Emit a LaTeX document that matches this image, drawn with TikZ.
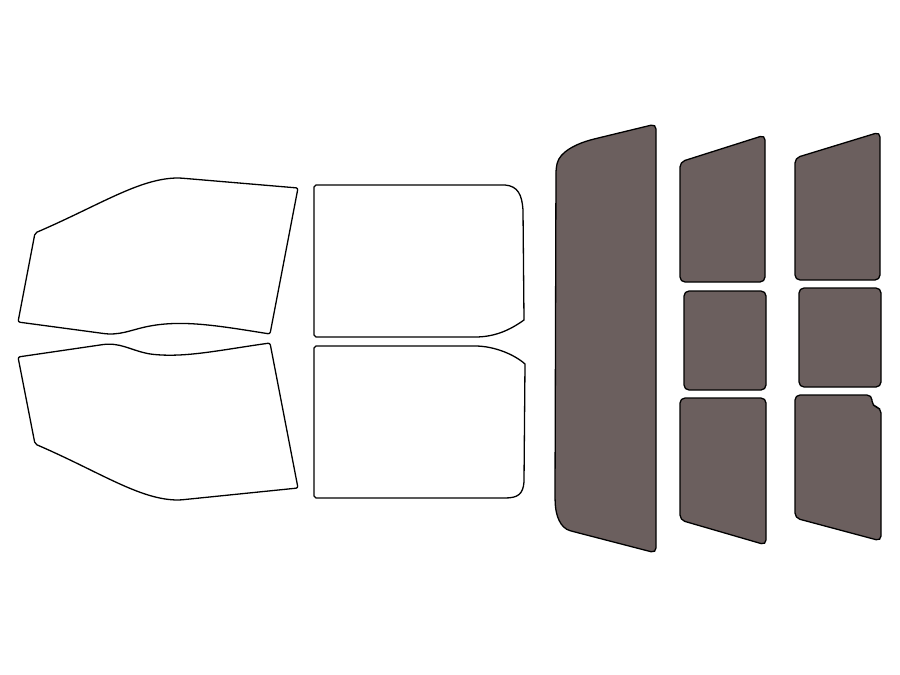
\documentclass[tikz,border=0pt]{standalone}
\begin{document}
\begin{tikzpicture}[x=1pt,y=-1pt]
\definecolor{tint}{HTML}{6B5F5E}
\tikzset{clear/.style={draw=black,line width=1.3pt,fill=white,line join=round},
dark/.style={draw=black,line width=1.3pt,fill=tint,rounded corners=5pt}}
\useasboundingbox[fill=white] (0,0) rectangle (900,675);
% front windows
\draw[clear,rounded corners=2pt] (35,233) .. controls (100,205) and (140,178) .. (180,178) -- (298,188) -- (270,334)
 .. controls (220,326) and (185,320) .. (150,326) .. controls (130,330) and (120,336) .. (100,333) -- (18,322) -- cycle;
\draw[clear,rounded corners=2pt] (18,357) -- (100,345) .. controls (120,342) and (130,350) .. (150,354)
 .. controls (185,358) and (220,350) .. (270,343) -- (298,488) -- (180,500) .. controls (140,500) and (100,472) .. (35,444) -- cycle;
% rear doors
\draw[clear] (316,185) -- (505,185) .. controls (518,186) and (522,195) .. (523,210) -- (524,320) .. controls (510,330) and (495,337) .. (475,337) -- (316,337) -- (314,335) -- (314,187) -- cycle;
\draw[clear] (316,346) -- (475,346) .. controls (495,346) and (515,355) .. (525,364) -- (524,482) .. controls (523,494) and (518,498) .. (505,498) -- (316,498) -- (314,496) -- (314,348) -- cycle;
% back glass
\draw[dark] (556,168) .. controls (560,152) and (575,145) .. (590,140) -- (656,124) -- (656,553) -- (575,532) .. controls (560,528) and (556,515) .. (555,500) -- cycle;
% column 1
\draw[dark] (680,162) -- (765,135) -- (765,282) -- (680,282) -- cycle;
\draw[dark] (684,291) rectangle (766,390);
\draw[dark] (680,398) -- (766,398) -- (766,545) -- (680,520) -- cycle;
% column 2
\draw[dark] (795,158) -- (880,132) -- (880,280) -- (795,280) -- cycle;
\draw[dark] (799,288) rectangle (881,387);
\draw[dark] (795,395) -- (872,395) -- (872,406) -- (881,408) -- (881,541) -- (795,518) -- cycle;
\end{tikzpicture}
\end{document}
